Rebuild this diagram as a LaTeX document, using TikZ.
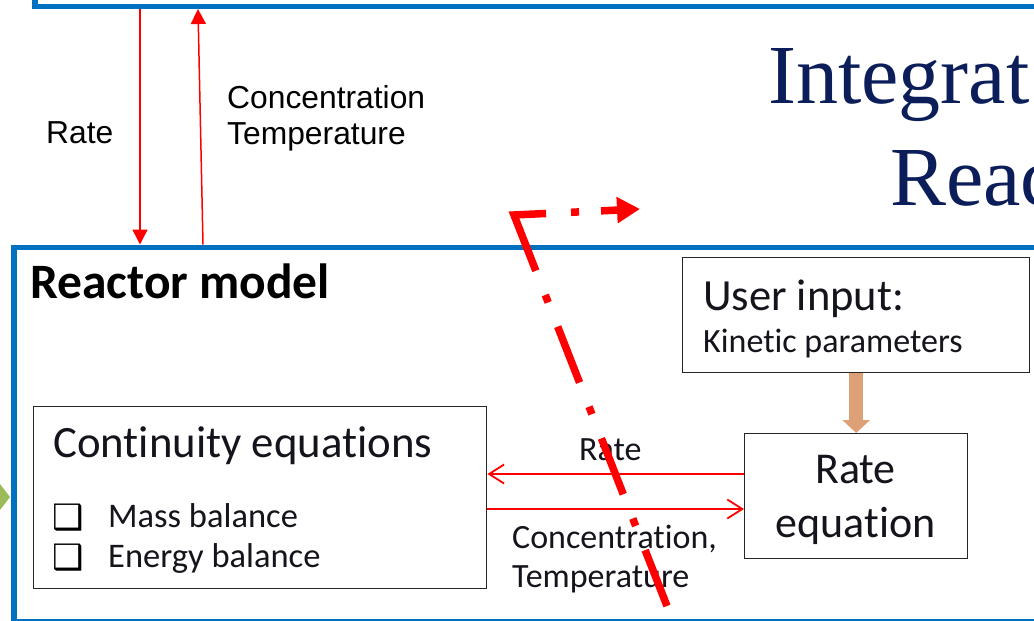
\documentclass[tikz,border=0pt]{standalone}
\usepackage{fontspec}
\setmainfont{Carlito}[Ligatures=NoCommon, Contextuals=NoAlternate, RawFeature={-liga;-clig;-calt}]
\newfontfamily\arialfont{Liberation Sans}
\newfontfamily\timesfont{Liberation Serif}
\newfontfamily\symfont{DejaVu Sans}
\usetikzlibrary{arrows.meta}
\definecolor{slideblue}{RGB}{0,112,192}
\definecolor{titlenavy}{RGB}{12,30,90}
\definecolor{tanarrow}{RGB}{222,160,118}
\definecolor{leafgreen}{RGB}{155,187,89}
\definecolor{inkdark}{RGB}{20,20,28}
\definecolor{boxline}{RGB}{38,38,38}
\begin{document}
\begin{tikzpicture}[x=1pt,y=-1pt,
  bluebox/.style={draw=slideblue, line width=5.5pt, inner sep=0pt},
  plainbox/.style={draw=boxline, line width=1.4pt, fill=white, inner sep=0pt},
  txt/.style={inner sep=0pt, anchor=base west, text=inkdark},
  arialtxt/.style={txt, text=black, font=\arialfont\fontsize{31.8}{36}\selectfont},
  titletxt/.style={inner sep=0pt, anchor=base west, text=titlenavy, font=\timesfont\fontsize{84}{102}\selectfont},
  checkbox/.style={txt, text=black, font=\symfont\bfseries\fontsize{35}{35}\selectfont},
  feed/.style={draw=red, line width=1.5pt, -{Triangle[length=15pt,width=15pt]}},
  barb/.style={draw=red, line width=1.8pt, -{Straight Barb[length=15pt,width=19pt]}},
  thick feed/.style={draw=tanarrow, line width=14pt, -{Triangle[length=13pt,width=27pt]}},
  cutline/.style={draw=red, line width=7.5pt, line join=miter,
    dash pattern=on 60pt off 26pt on 8pt off 26pt on 60pt off 26pt on 8pt off 26pt
                 on 60pt off 26pt on 8pt off 26pt on 92pt off 25pt on 8pt off 22pt on 60pt,
    -{Triangle[length=23pt,width=25pt]}}
]
\useasboundingbox (0,0) rectangle (1034,621);
\clip (0,0) rectangle (1034,621);

% green arrow entering from the left
\fill[leafgreen] (0,484) -- (10,497) -- (0,510) -- cycle;

% upper frame and reactor model frame
\node[bluebox, anchor=north west, minimum width=1040pt, minimum height=40pt] (upper) at (32,-36.5) {};
\node[bluebox, anchor=north west, minimum width=1060pt, minimum height=374.5pt] (reactor) at (11,244.5) {};

% exchange between the two frames
\coordinate (downx) at (140,0);
\coordinate (upbotx) at (203,0);
\coordinate (uptopx) at (198,0);
\draw[feed] (downx |- upper.south) -- (downx |- reactor.north);
\draw[feed] (upbotx |- reactor.north) -- (uptopx |- upper.south);
\node[arialtxt] (ratelbl) at (46,143) {Rate};
\node[arialtxt] (conclbl) at (227,108) {Concentration};
\node[arialtxt] (templbl) at (227,144) {Temperature};

% title
\node[titletxt] (title1) at (768,103) {Integrat};
\node[titletxt] (title2) at (890,205) {Reac};

% reactor model contents
\node[txt, font=\bfseries\fontsize{49.5}{54}\selectfont, text=black] (rmlabel) at (30,298) {Reactor model};

\node[plainbox, anchor=north west, minimum width=453pt, minimum height=182pt] (cont) at (33,406) {};
\node[txt, font=\fontsize{44.8}{50}\selectfont] (conttitle) at (53,457) {Continuity equations};
\node[checkbox] (chk1) at (52,529) {❑};
\node[txt, font=\fontsize{34.5}{40}\selectfont] (mass) at (108,527) {Mass balance};
\node[checkbox] (chk2) at (52,569) {❑};
\node[txt, font=\fontsize{34.5}{40}\selectfont] (energy) at (108,567) {Energy balance};

\node[plainbox, anchor=north west, minimum width=347pt, minimum height=115pt] (user) at (682,257) {};
\node[txt, font=\fontsize{44.5}{50}\selectfont] (usertitle) at (703,310) {User input:};
\node[txt, font=\fontsize{34}{40}\selectfont] (kinetic) at (703,352) {Kinetic parameters};

\node[plainbox, anchor=north west, minimum width=223pt, minimum height=125pt] (rateeq) at (744,433) {};
\node[inner sep=0pt, anchor=base, text=inkdark, font=\fontsize{44}{50}\selectfont] (rateeq1) at (855.5,483) {Rate};
\node[inner sep=0pt, anchor=base, text=inkdark, font=\fontsize{44}{50}\selectfont] (rateeq2) at (855.5,537) {equation};

\draw[thick feed] (user.south) -- (rateeq.north);

% rate / state exchange between the two blocks
\coordinate (yhi) at (0,474);
\coordinate (ylo) at (0,509);
\draw[barb] (rateeq.west |- yhi) -- (cont.east |- yhi);
\draw[barb] (cont.east |- ylo) -- (rateeq.west |- ylo);
\node[txt, font=\fontsize{34}{40}\selectfont] (ratesmall) at (579,460) {Rate};
\node[txt, font=\fontsize{34}{40}\selectfont] (concsmall) at (512,548) {Concentration,};
\node[txt, font=\fontsize{34}{40}\selectfont] (tempsmall) at (512,587) {Temperature};

% dash-dot cut line with arrow
\coordinate (cutbottom) at (667,606);
\coordinate (cutcorner) at (514,215);
\coordinate (cuttip) at (640,209);
\draw[cutline] (cutbottom) -- (cutcorner) -- (cuttip);
\end{tikzpicture}
\end{document}
